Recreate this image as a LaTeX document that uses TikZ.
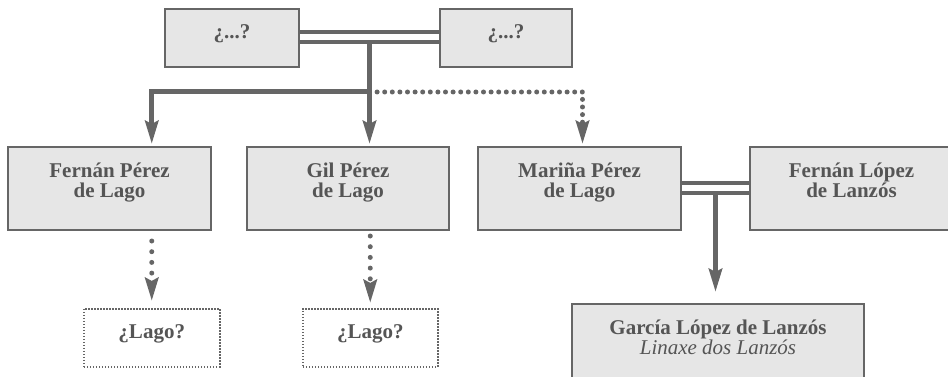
\documentclass[tikz,border=0pt]{standalone}
\usepackage{fontspec}
\setmainfont{Liberation Serif}
\usetikzlibrary{arrows.meta,calc}
\definecolor{boxline}{RGB}{102,102,102}
\definecolor{boxfill}{RGB}{230,230,230}
\definecolor{boxtext}{RGB}{85,85,85}
\tikzset{
	person/.style={draw=boxline, fill=boxfill, line width=2pt, text=boxtext,
		font=\bfseries\fontsize{21}{20}\selectfont, align=center,
		anchor=north west, inner ysep=0pt},
	tall/.style={text height=50pt, text depth=33pt},
	short/.style={text height=30pt, text depth=28pt},
	guess/.style={person, fill=none, line width=1.5pt, dash pattern=on 1.5pt off 1.5pt},
	link/.style={draw=boxline, line width=5pt},
	wedline/.style={draw=boxline, line width=4.5pt},
	tip/.style={-{Stealth[length=23pt, width=13pt, inset=3pt]}},
	linkarr/.style={link, tip},
	dotarr/.style={draw=boxline, line width=5pt, line cap=round,
		dash pattern=on 0pt off #1, tip},
	dotarr/.default=7.6pt,
}

\begin{document}
\begin{tikzpicture}[x=1pt, y=-1pt]
		%%%%% START %%%%%
		\useasboundingbox (0, 0) rectangle (948, 377);
		
		\node[person, short, minimum width=134pt] (parentA) at (164, 8) {¿...?};
		\node[person, short, minimum width=132pt] (parentB) at (439, 8) {¿...?};
		
		\node[person, tall, minimum width=203pt] (fernan) at (7, 146) {Fernán Pérez\\de Lago};
		\node[person, tall, minimum width=202pt] (gil) at (246, 146) {Gil Pérez\\de Lago};
		\node[person, tall, minimum width=203pt] (marina) at (477, 146) {Mariña Pérez\\de Lago};
		\node[person, tall, minimum width=203pt] (lopez) at (749, 146) {Fernán López\\de Lanzós};
		
		\node[guess, short, minimum width=136pt] (lagoA) at (83, 308) {¿Lago?};
		\node[guess, short, minimum width=135pt] (lagoB) at (302, 308) {¿Lago?};
		
		\node[person, tall, minimum width=292pt] (garcia) at (571, 303)
			{García López de Lanzós\\{\mdseries\itshape Linaxe dos Lanzós}};
		
		% marriage of the unknown parents
		\draw[wedline] ([yshift=6pt]parentA.east) -- ([yshift=6pt]parentB.west);
		\draw[wedline] ([yshift=-4pt]parentA.east) -- ([yshift=-4pt]parentB.west);
		\coordinate (wed) at ($([yshift=-4pt]parentA.east)!0.5!([yshift=-4pt]parentB.west)$);
		\coordinate (fork) at (wed |- 0, 92);
		
		\draw[linkarr, shorten >=2pt] (wed) -- (wed |- gil.north);
		\draw[linkarr, shorten >=2pt] (fork) -| (lagoA |- fernan.north);
		\draw[dotarr, shorten >=2pt] (fork) -| ([xshift=3pt]marina.north);
		
		\draw[dotarr=10.7pt, shorten <=10pt, shorten >=7pt] (lagoA |- fernan.south) -- (lagoA.north);
		\draw[dotarr=10.7pt, shorten <=5pt, shorten >=5pt] (lagoB |- gil.south) -- (lagoB.north);
		
		% second marriage
		\draw[wedline] ([yshift=5.5pt]marina.east) -- ([yshift=5.5pt]lopez.west);
		\draw[wedline] ([yshift=-4.5pt]marina.east) -- ([yshift=-4.5pt]lopez.west);
		\coordinate (wed2) at ($([yshift=-4.5pt]marina.east)!0.5!([yshift=-4.5pt]lopez.west)$);
		\draw[linkarr, shorten >=11pt] (wed2) -- (wed2 |- garcia.north);
		%%%%% END %%%%%
\end{tikzpicture}
\end{document}
